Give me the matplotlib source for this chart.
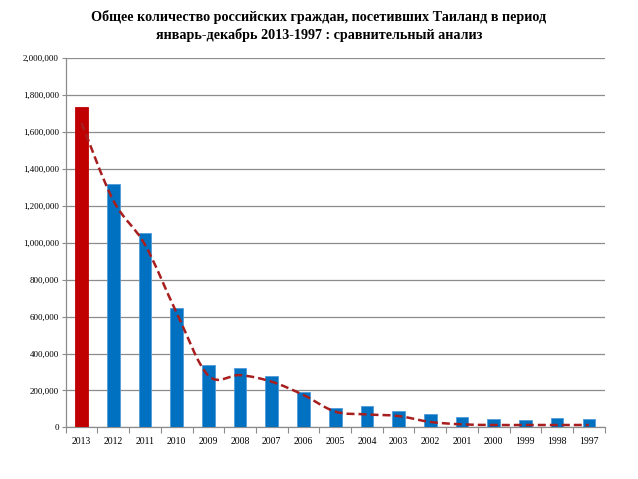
import matplotlib
matplotlib.use("Agg")
import matplotlib.pyplot as plt
from matplotlib.path import Path
from matplotlib.patches import PathPatch
from matplotlib.ticker import FuncFormatter, FixedLocator, MultipleLocator
import numpy as np

years = ["2013", "2012", "2011", "2010", "2009", "2008", "2007", "2006", "2005",
         "2004", "2003", "2002", "2001", "2000", "1999", "1998", "1997"]
tourists = [1738000, 1317000, 1055000, 647000, 338000, 323000, 278000, 190000, 103000,
            115000, 90000, 72000, 56000, 47000, 40000, 49000, 47000]
trend = [1650000, 1230000, 990000, 620000, 280000, 283000, 247000, 175000, 85000,
         70000, 61000, 29000, 16000, 12500, 12500, 12500, 12500]

title = ("Общее количество российских граждан, посетивших Таиланд в период\n"
         "январь-декабрь 2013-1997 : сравнительный анализ")

plt.rcParams['font.family'] = ['Liberation Serif', 'DejaVu Serif']

fig = plt.figure(figsize=(6.38, 4.79), dpi=100)
ax = fig.add_axes([65.7 / 638, 1 - 427.3 / 479, (604.7 - 65.7) / 638, (427.3 - 58.3) / 479])

x = np.arange(len(years))
colors = ['#C00000'] + ['#0070C0'] * (len(years) - 1)
edges = ['#C00000'] + ['#4F9BD9'] * (len(years) - 1)
ax.bar(x, tourists, width=0.4, color=colors, edgecolor=edges, linewidth=0.6, zorder=3)

# smoothed line (Catmull-Rom as cubic Bezier, like Excel "smoothed line")
pts = np.column_stack([x, trend]).astype(float)
verts = [pts[0]]
codes = [Path.MOVETO]
for i in range(len(pts) - 1):
    p0 = pts[i - 1] if i > 0 else pts[i]
    p1, p2 = pts[i], pts[i + 1]
    p3 = pts[i + 2] if i + 2 < len(pts) else pts[i + 1]
    c1 = p1 + (p2 - p0) / 6
    c2 = p2 - (p3 - p1) / 6
    verts += [c1, c2, p2]
    codes += [Path.CURVE4] * 3
ax.add_patch(PathPatch(Path(verts, codes), fill=False, edgecolor='#A81E1E',
                       linewidth=1.8, linestyle=(0, (3.2, 1.6)), zorder=4))

ax.set_xlim(-0.5, len(years) - 0.5)
ax.set_ylim(0, 2000000)
ax.yaxis.set_major_locator(MultipleLocator(200000))
ax.yaxis.set_major_formatter(FuncFormatter(lambda v, p: f"{int(v):,}"))
ax.grid(axis='y', color='#8C8C8C', linewidth=0.9, zorder=0)
ax.set_axisbelow(True)

ax.xaxis.set_major_locator(FixedLocator(np.arange(-0.5, len(years), 1.0)))
ax.xaxis.set_major_formatter(FuncFormatter(lambda v, p: ""))
ax.xaxis.set_minor_locator(FixedLocator(x))
ax.set_xticklabels(years, minor=True)
ax.tick_params(axis='x', which='major', length=4, color='#8C8C8C', width=0.8)
ax.tick_params(axis='x', which='minor', length=0, labelsize=7, pad=7)
ax.tick_params(axis='y', length=3, color='#8C8C8C', width=0.8, labelsize=6.5, pad=2)

for s in ['top', 'right']:
    ax.spines[s].set_visible(False)
for s in ['left', 'bottom']:
    ax.spines[s].set_color('#8C8C8C')
    ax.spines[s].set_linewidth(0.9)

fig.text(0.5, 1 - 26 / 479, title, ha='center', va='center', fontsize=10.2,
         fontweight='bold', linespacing=1.4)

fig.savefig("out.png", dpi=100)
